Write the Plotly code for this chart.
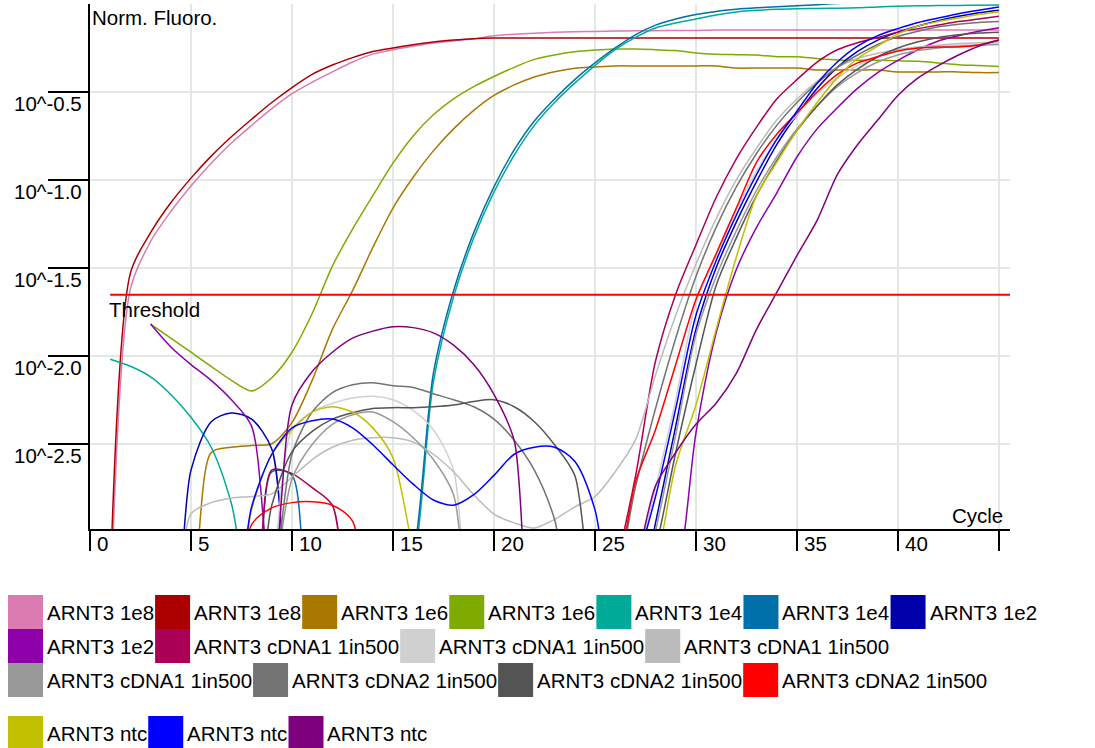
import plotly.graph_objects as go

# ---------------- data ----------------
cycles = list(range(1, 46))

sample_names = [
    "ARNT3 1e8", "ARNT3 1e8", "ARNT3 1e6", "ARNT3 1e6", "ARNT3 1e4", "ARNT3 1e4",
    "ARNT3 1e2", "ARNT3 1e2", "ARNT3 cDNA1 1in500", "ARNT3 cDNA1 1in500",
    "ARNT3 cDNA1 1in500", "ARNT3 cDNA1 1in500", "ARNT3 cDNA2 1in500",
    "ARNT3 cDNA2 1in500", "ARNT3 cDNA2 1in500", "ARNT3 ntc", "ARNT3 ntc", "ARNT3 ntc",
]
sample_colors = [
    "#DC7AB2", "#AA0000", "#AA7700", "#7FAA00", "#00AA99", "#0070AA",
    "#0000AA", "#8E00AA", "#AA0055", "#D0D0D0", "#BBBBBB", "#999999",
    "#737373", "#555555", "#FF0000", "#C0C000", "#0000FF", "#7F007F",
]

N = None
# log10(Norm. Fluoro.) for cycles 1..45 (values below -2.98 lie under the axis)
arnt3_1e8_a = [-3.5, -1.62, -1.35, -1.18, -1.035, -0.905, -0.79, -0.69, -0.595, -0.51,
               -0.445, -0.386, -0.33, -0.285, -0.26, -0.24, -0.222, -0.21, -0.198, -0.18,
               -0.172, -0.166, -0.161, -0.158, -0.156, -0.154, -0.152, -0.152, -0.150, -0.150,
               -0.148, -0.148, -0.148, -0.148, -0.148, -0.148, -0.148, -0.148, -0.148, -0.148,
               -0.148, -0.148, -0.148, -0.148, -0.148]
arnt3_1e8_b = [-3.3, -1.53, -1.30, -1.13, -0.99, -0.865, -0.755, -0.655, -0.56, -0.475,
               -0.40, -0.347, -0.305, -0.27, -0.25, -0.232, -0.216, -0.205, -0.197, -0.193,
               -0.193, -0.193, -0.193, -0.193, -0.193, -0.193, -0.193, -0.193, -0.193, -0.193,
               -0.193, -0.193, -0.193, -0.193, -0.193, -0.193, -0.193, -0.193, -0.193, -0.193,
               -0.193, -0.193, -0.193, -0.193, -0.193]
arnt3_1e6_a = [-3.5, -3.5, -3.5, -3.5, -3.35, -2.55, -2.52, -2.51, -2.50, -2.38,
               -2.14, -1.85, -1.63, -1.385, -1.16, -0.985, -0.835, -0.71, -0.605, -0.52,
               -0.46, -0.415, -0.385, -0.365, -0.358, -0.352, -0.352, -0.352, -0.352, -0.352,
               -0.352, -0.364, -0.364, -0.364, -0.364, -0.375, -0.375, -0.375, -0.375, -0.386,
               -0.386, -0.386, -0.386, -0.39, -0.39]
arnt3_1e6_b = [N, N, -1.82, -1.90, -1.98, -2.06, -2.14, -2.20, -2.125, -1.98,
               -1.76, -1.49, -1.28, -1.09, -0.905, -0.75, -0.63, -0.54, -0.47, -0.412,
               -0.36, -0.315, -0.29, -0.272, -0.262, -0.256, -0.256, -0.26, -0.265, -0.278,
               -0.285, -0.288, -0.29, -0.30, -0.30, -0.31, -0.318, -0.32, -0.32, -0.322,
               -0.326, -0.335, -0.345, -0.35, -0.355]
arnt3_1e4_a = [-2.02, -2.06, -2.12, -2.22, -2.35, -2.52, -2.84, -3.4, -3.5, -3.5,
               -3.5, -3.5, -3.5, -3.5, -3.5, -3.2, -2.15, -1.665, -1.33, -1.07,
               -0.86, -0.69, -0.56, -0.45, -0.35, -0.26, -0.19, -0.136, -0.108, -0.085,
               -0.0625, -0.045, -0.036, -0.03, -0.027, -0.025, -0.024, -0.022, -0.017, -0.013,
               -0.01, -0.009, -0.008, -0.007, -0.006]
arnt3_1e4_b = [-3.6, -3.6, -3.6, -3.6, -3.6, -3.6, -3.6, -3.6, -2.66, -2.68,
               -3.5, -3.5, -3.5, -3.5, -3.5, -3.15, -2.10, -1.63, -1.30, -1.04,
               -0.83, -0.665, -0.54, -0.43, -0.335, -0.25, -0.175, -0.12, -0.085, -0.06,
               -0.042, -0.03, -0.022, -0.016, -0.01, -0.004, 0.003, 0.008, 0.01, 0.01,
               0.01, 0.01, 0.01, 0.01, 0.01]
arnt3_1e2_a = [-3.5, -3.5, -3.5, -3.5, -2.65, -2.375, -2.325, -2.36, -2.53, -3.4,
               -3.5, -3.5, -3.5, -3.5, -3.5, -3.5, -3.5, -3.5, -3.5, -3.5,
               -3.5, -3.5, -3.5, -3.5, -3.5, -3.5, -3.5, -2.95, -2.40, -1.85,
               -1.50, -1.24, -1.01, -0.80, -0.63, -0.48, -0.36, -0.27, -0.205, -0.16,
               -0.125, -0.095, -0.07, -0.05, -0.035]
arnt3_1e2_b = [N, N, -1.82, -1.95, -2.05, -2.14, -2.25, -2.40, -3.3, -3.5,
               -3.5, -3.5, -3.5, -3.5, -3.5, -3.5, -3.5, -3.5, -3.5, -3.5,
               -3.5, -3.5, -3.5, -3.5, -3.5, -3.5, -3.5, -3.5, -3.3, -2.44,
               -1.87, -1.51, -1.27, -1.075, -0.87, -0.71, -0.59, -0.48, -0.39, -0.32,
               -0.26, -0.21, -0.18, -0.155, -0.135]
cdna1_a = [-3.5, -3.5, -3.5, -3.5, -3.5, -3.5, -3.5, -3.5, -2.65, -2.67,
           -2.75, -2.85, -3.5, -3.5, -3.5, -3.5, -3.5, -3.5, -3.5, -3.5,
           -3.5, -3.5, -3.5, -3.5, -3.5, -3.2, -2.69, -2.03, -1.65, -1.37,
           -1.10, -0.88, -0.70, -0.54, -0.43, -0.33, -0.26, -0.22, -0.19, -0.16,
           -0.14, -0.12, -0.10, -0.085, -0.07]
cdna1_b = [-3.5, -3.5, -3.5, -3.5, -3.5, -3.5, -3.5, -3.5, -3.2, -2.42,
           -2.32, -2.27, -2.24, -2.23, -2.25, -2.31, -2.42, -2.65, -3.5, -3.5,
           -3.5, -3.5, -3.5, -3.5, -3.5, -3.5, -3.2, -2.75, -2.25, -1.70,
           -1.43, -1.17, -0.95, -0.77, -0.63, -0.51, -0.42, -0.35, -0.30, -0.27,
           -0.25, -0.24, -0.235, -0.23, -0.225]
cdna1_c = [-3.5, -3.5, -3.5, -3.5, -2.90, -2.835, -2.81, -2.80, -2.785, -2.69,
           -2.59, -2.52, -2.48, -2.466, -2.466, -2.49, -2.56, -2.66, -2.79, -2.90,
           -2.95, -2.98, -2.93, -2.86, -2.80, -2.66, -2.48, -2.11, -1.77, -1.48,
           -1.22, -1.00, -0.82, -0.66, -0.54, -0.44, -0.36, -0.31, -0.28, -0.26,
           -0.245, -0.235, -0.225, -0.22, -0.215]
cdna1_d = [-3.5, -3.5, -3.5, -3.5, -3.5, -3.5, -3.5, -3.5, -3.3, -2.70,
           -2.505, -2.39, -2.335, -2.32, -2.375, -2.466, -2.59, -2.79, -3.5, -3.5,
           -3.5, -3.5, -3.5, -3.5, -3.5, -3.5, -3.5, -3.0, -2.45, -1.88,
           -1.55, -1.29, -1.06, -0.87, -0.71, -0.58, -0.47, -0.39, -0.33, -0.29,
           -0.265, -0.25, -0.24, -0.235, -0.23]
cdna2_a = [-3.5, -3.5, -3.5, -3.5, -3.5, -3.5, -3.5, -3.5, -3.3, -2.56,
           -2.32, -2.21, -2.165, -2.153, -2.17, -2.18, -2.216, -2.25, -2.29, -2.36,
           -2.48, -2.65, -2.93, -3.5, -3.5, -3.3, -2.75, -2.30, -1.90, -1.55,
           -1.27, -1.04, -0.85, -0.69, -0.56, -0.45, -0.36, -0.29, -0.23, -0.185,
           -0.155, -0.13, -0.115, -0.105, -0.10]
cdna2_b = [-3.5, -3.5, -3.5, -3.5, -3.5, -3.5, -3.5, -3.5, -2.85, -2.545,
           -2.43, -2.36, -2.324, -2.30, -2.295, -2.295, -2.29, -2.28, -2.26, -2.25,
           -2.29, -2.375, -2.506, -2.68, -3.4, -3.5, -3.5, -3.1, -2.55, -2.05,
           -1.60, -1.33, -1.09, -0.89, -0.72, -0.58, -0.46, -0.37, -0.30, -0.25,
           -0.215, -0.19, -0.175, -0.165, -0.16]
cdna2_c = [-3.5, -3.5, -3.5, -3.5, -3.5, -3.5, -3.5, -2.96, -2.865, -2.835,
           -2.83, -2.85, -2.94, -3.5, -3.5, -3.5, -3.5, -3.5, -3.5, -3.5,
           -3.5, -3.5, -3.5, -3.5, -3.5, -3.3, -2.72, -2.42, -2.05, -1.68,
           -1.42, -1.16, -0.90, -0.74, -0.62, -0.50, -0.40, -0.335, -0.30, -0.267,
           -0.25, -0.244, -0.244, -0.233, -0.205]
ntc_a = [-3.5, -3.5, -3.5, -3.5, -3.5, -3.5, -3.5, -2.875, -2.56, -2.42,
         -2.32, -2.29, -2.32, -2.41, -2.58, -3.1, -3.5, -3.5, -3.5, -3.5,
         -3.5, -3.5, -3.5, -3.5, -3.5, -3.5, -3.5, -3.2, -2.62, -2.28,
         -1.85, -1.44, -1.09, -0.90, -0.72, -0.56, -0.42, -0.31, -0.24, -0.17,
         -0.125, -0.10, -0.08, -0.06, -0.045]
ntc_b = [-3.5, -3.5, -3.5, -3.5, -3.5, -3.5, -3.5, -2.86, -2.56, -2.41,
         -2.37, -2.36, -2.41, -2.506, -2.62, -2.73, -2.82, -2.85, -2.79, -2.68,
         -2.56, -2.52, -2.52, -2.60, -2.875, -3.5, -3.2, -2.80, -2.30, -1.77,
         -1.46, -1.20, -0.97, -0.77, -0.61, -0.45, -0.33, -0.24, -0.18, -0.14,
         -0.105, -0.08, -0.055, -0.035, -0.017]
ntc_c = [-3.5, -3.5, -3.5, -3.5, -3.5, -3.5, -3.5, -3.5, -3.3, -2.28,
         -2.09, -1.98, -1.90, -1.86, -1.835, -1.84, -1.87, -1.94, -2.05, -2.22,
         -2.48, -3.5, -3.5, -3.5, -3.5, -3.5, -3.2, -2.74, -2.55, -2.39,
         -2.27, -2.10, -1.85, -1.64, -1.43, -1.23, -0.97, -0.80, -0.66, -0.52,
         -0.42, -0.35, -0.29, -0.24, -0.205]

series_log = [arnt3_1e8_a, arnt3_1e8_b, arnt3_1e6_a, arnt3_1e6_b, arnt3_1e4_a, arnt3_1e4_b,
              arnt3_1e2_a, arnt3_1e2_b, cdna1_a, cdna1_b, cdna1_c, cdna1_d,
              cdna2_a, cdna2_b, cdna2_c, ntc_a, ntc_b, ntc_c]

threshold_log = -1.653
threshold_cycles = [1, 45.55]

x_ticks = [0, 5, 10, 15, 20, 25, 30, 35, 40, 45]
x_tick_text = ["0", "5", "10", "15", "20", "25", "30", "35", "40", ""]
y_ticks_log = [-0.5, -1.0, -1.5, -2.0, -2.5]
y_tick_text = ["10^-0.5", "10^-1.0", "10^-1.5", "10^-2.0", "10^-2.5"]

# ---------------- geometry ----------------
W, H = 1095, 748
L, R, T, B = 90, 85, 4, 219
PW, PH = W - L - R, H - T - B
FONT = "Liberation Sans, Arial, sans-serif"
FS = 20.5


def px_x(px):
    return (px - L) / PW


def px_y(py):
    return (H - B - py) / PH


fig = go.Figure()
for name, color, vals in zip(sample_names, sample_colors, series_log):
    fig.add_trace(go.Scatter(
        x=cycles, y=[None if v is None else 10 ** v for v in vals],
        mode="lines", name=name, showlegend=False, hoverinfo="skip",
        line=dict(color=color, width=1.5, shape="spline", smoothing=0.8)))

fig.add_trace(go.Scatter(
    x=threshold_cycles, y=[10 ** threshold_log] * len(threshold_cycles),
    mode="lines", showlegend=False, hoverinfo="skip",
    line=dict(color="#FF0000", width=1.8)))

annotations = []
for v, t in zip(y_ticks_log, y_tick_text):
    annotations.append(dict(x=px_x(84), xref="paper", y=v, yref="y", text=t,
                            showarrow=False, xanchor="right", yanchor="top", yshift=2,
                            font=dict(family=FONT, size=FS, color="black")))
for v, t in zip(x_ticks, x_tick_text):
    if t:
        annotations.append(dict(x=v, xref="x", y=0, yref="paper", text=t,
                                showarrow=False, xanchor="left", yanchor="top",
                                xshift=5, yshift=-1,
                                font=dict(family=FONT, size=FS, color="black")))
annotations.append(dict(x=0, xref="paper", y=1, yref="paper", text="Norm. Fluoro.",
                        showarrow=False, xanchor="left", yanchor="top", yshift=0,
                        font=dict(family=FONT, size=FS, color="black")))
annotations.append(dict(x=px_x(1005), xref="paper", y=0, yref="paper", text="Cycle",
                        showarrow=False, xanchor="right", yanchor="bottom", yshift=0,
                        font=dict(family=FONT, size=FS, color="black")))
annotations.append(dict(x=0.85, xref="x", y=threshold_log, yref="y", text="Threshold",
                        showarrow=False, xanchor="left", yanchor="top", yshift=-1,
                        font=dict(family=FONT, size=FS, color="black")))

# ---------------- custom legend ----------------
ARIAL_W = {"A": 667, "R": 722, "N": 722, "T": 611, " ": 278, "e": 556, "c": 500,
           "D": 722, "i": 222, "n": 556, "t": 278}


def text_w(s):
    return sum(ARIAL_W.get(ch, 556) for ch in s) / 1000.0 * FS


shapes = []
row_tops = [595, 629, 663, 716]
SW, SH = 35, 34
row, x = 0, 8
for name, color in zip(sample_names, sample_colors):
    item_w = SW + 3 + text_w(name) + 2
    if x + item_w > W and x > 8:
        row += 1
        x = 8
    top = row_tops[row]
    shapes.append(dict(type="rect", xref="paper", yref="paper",
                       x0=px_x(x), x1=px_x(x + SW), y0=px_y(top + SH), y1=px_y(top),
                       fillcolor=color, line=dict(width=0), layer="above"))
    annotations.append(dict(x=px_x(x + SW + 2), xref="paper", y=px_y(top + SH / 2),
                            yref="paper", text=name, showarrow=False,
                            xanchor="left", yanchor="middle",
                            font=dict(family=FONT, size=FS, color="black")))
    x += item_w

fig.update_layout(
    width=W, height=H, margin=dict(l=L, r=R, t=T, b=B),
    paper_bgcolor="white", plot_bgcolor="white",
    hovermode=False, showlegend=False,
    annotations=annotations, shapes=shapes,
    xaxis=dict(range=[0, 45.55], tickvals=x_ticks, showticklabels=False,
               ticks="outside", ticklen=20, tickwidth=2, tickcolor="black",
               showline=True, linecolor="black", linewidth=2,
               showgrid=True, gridcolor="#E2E9E2", gridwidth=2, zeroline=False),
    yaxis=dict(type="log", range=[-2.985, 0.0], tickvals=[10 ** v for v in y_ticks_log],
               showticklabels=False, ticks="outside", ticklen=40, tickwidth=2,
               tickcolor="black", showline=True, linecolor="black", linewidth=2,
               showgrid=True, gridcolor="#E2E9E2", gridwidth=2, zeroline=False),
)

fig.write_html("out.html", config={"displayModeBar": False},
               post_script="document.body.style.margin='0px';document.body.style.overflow='hidden';")
